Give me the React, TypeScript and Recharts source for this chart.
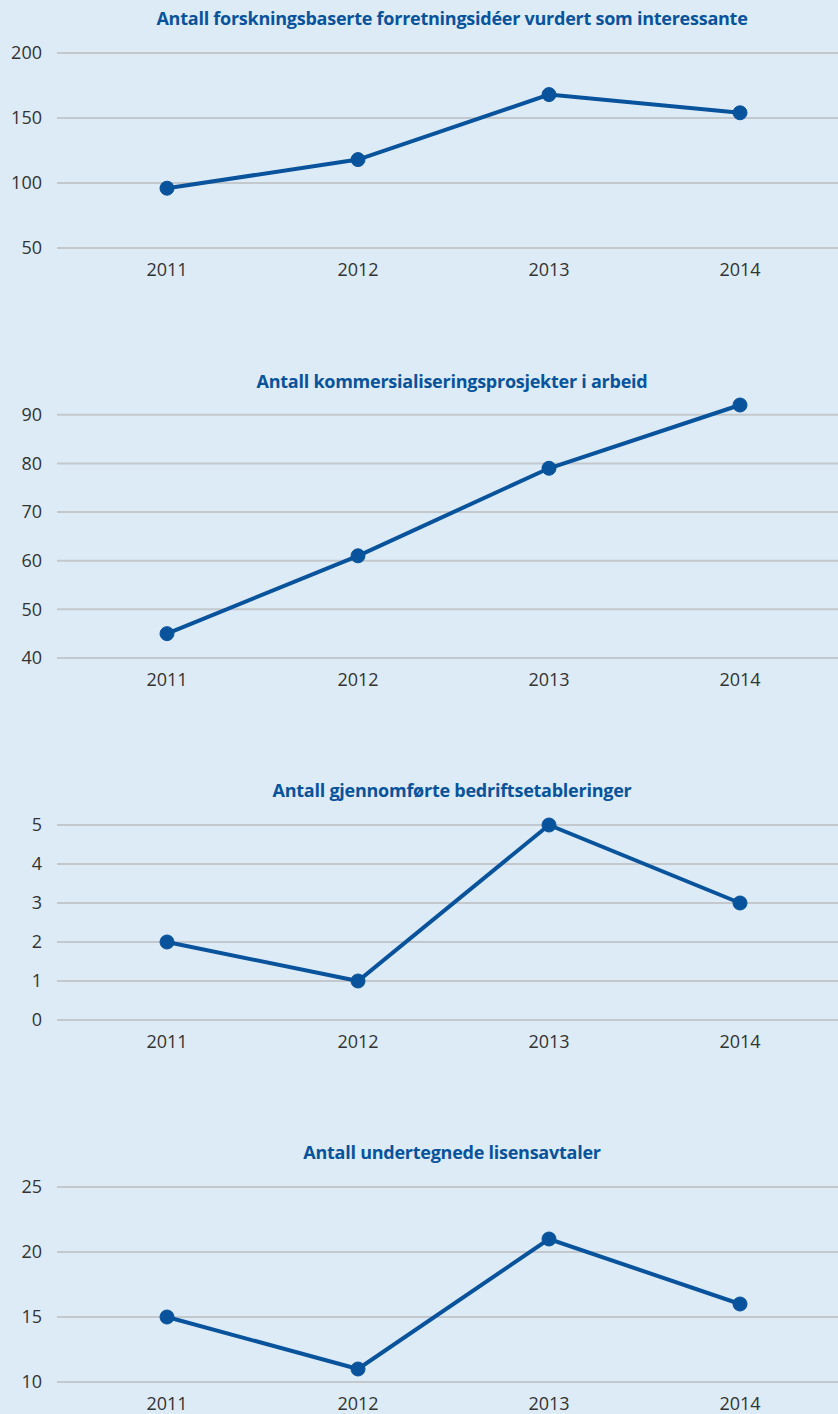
import React from 'react';
import { LineChart, Line, XAxis, YAxis, CartesianGrid } from 'recharts';

// Values
const YEARS = ['2011', '2012', '2013', '2014'];
const IDEAS = [96, 118, 168, 154];
const PROJECTS = [45, 61, 79, 92];
const STARTUPS = [2, 1, 5, 3];
const LICENSES = [15, 11, 21, 16];

const IDEAS_TICKS = [50, 100, 150, 200];
const PROJECTS_TICKS = [40, 50, 60, 70, 80, 90];
const STARTUPS_TICKS = [0, 1, 2, 3, 4, 5];
const LICENSES_TICKS = [10, 15, 20, 25];

const TITLES = [
  'Antall forskningsbaserte forretningsidéer vurdert som interessante',
  'Antall kommersialiseringsprosjekter i arbeid',
  'Antall gjennomførte bedriftsetableringer',
  'Antall undertegnede lisensavtaler',
];

const BG = '#ddebf7';
const BLUE = '#08539c';
const GRID = '#c3c8cd';
const TEXT = '#333333';
const FONT = '"Open Sans", sans-serif';

const WIDTH = 838;
const AXIS_H = 42;

interface PanelProps {
  title: string;
  values: number[];
  ticks: number[];
  domain: [number, number];
  titleTop: number;
  plotTop: number;
  plotBottom: number;
}

const Panel: React.FC<PanelProps> = ({ title, values, ticks, domain, titleTop, plotTop, plotBottom }) => {
  const data = YEARS.map((year, i) => ({ year, value: values[i] }));
  const marginTop = plotTop - titleTop;
  const height = plotBottom - titleTop + AXIS_H;

  return (
    <div style={{ position: 'absolute', left: 0, top: titleTop, width: WIDTH, height }}>
      <div
        style={{
          position: 'absolute',
          left: 66,
          width: 772,
          top: 0,
          textAlign: 'center',
          fontFamily: FONT,
          fontWeight: 700,
          fontSize: 18,
          letterSpacing: -0.25,
          color: BLUE,
          lineHeight: '24px',
        }}
      >
        {title}
      </div>
      <LineChart
        width={WIDTH}
        height={height}
        data={data}
        margin={{ top: marginTop, right: 0, bottom: 0, left: 0 }}
      >
        <CartesianGrid vertical={false} stroke={GRID} strokeWidth={2} syncWithTicks />
        <XAxis
          dataKey="year"
          scale="point"
          padding={{ left: 110, right: 98 }}
          axisLine={false}
          tickLine={false}
          tickSize={0}
          tickMargin={15}
          height={AXIS_H}
          tick={{ fill: TEXT, fontSize: 18, fontFamily: FONT }}
        />
        <YAxis
          domain={domain}
          ticks={ticks}
          width={57}
          axisLine={false}
          tickLine={false}
          tickSize={0}
          tickMargin={15}
          tick={{ fill: TEXT, fontSize: 18, fontFamily: FONT }}
        />
        <Line
          type="linear"
          dataKey="value"
          stroke={BLUE}
          strokeWidth={4}
          dot={{ r: 7, fill: BLUE, stroke: BLUE, strokeWidth: 1 }}
          isAnimationActive={false}
        />
      </LineChart>
    </div>
  );
};

const App: React.FC = () => {
  return (
    <div
      style={{
        position: 'absolute',
        left: 0,
        top: 0,
        width: WIDTH,
        height: 1414,
        background: BG,
        overflow: 'hidden',
      }}
    >
      <Panel title={TITLES[0]} values={IDEAS} ticks={IDEAS_TICKS} domain={[50, 200]} titleTop={6} plotTop={53} plotBottom={248} />
      <Panel title={TITLES[1]} values={PROJECTS} ticks={PROJECTS_TICKS} domain={[40, 92]} titleTop={369} plotTop={405} plotBottom={658} />
      <Panel title={TITLES[2]} values={STARTUPS} ticks={STARTUPS_TICKS} domain={[0, 5]} titleTop={778} plotTop={825} plotBottom={1020} />
      <Panel title={TITLES[3]} values={LICENSES} ticks={LICENSES_TICKS} domain={[10, 25]} titleTop={1140} plotTop={1187} plotBottom={1382} />
    </div>
  );
};

export default App;
